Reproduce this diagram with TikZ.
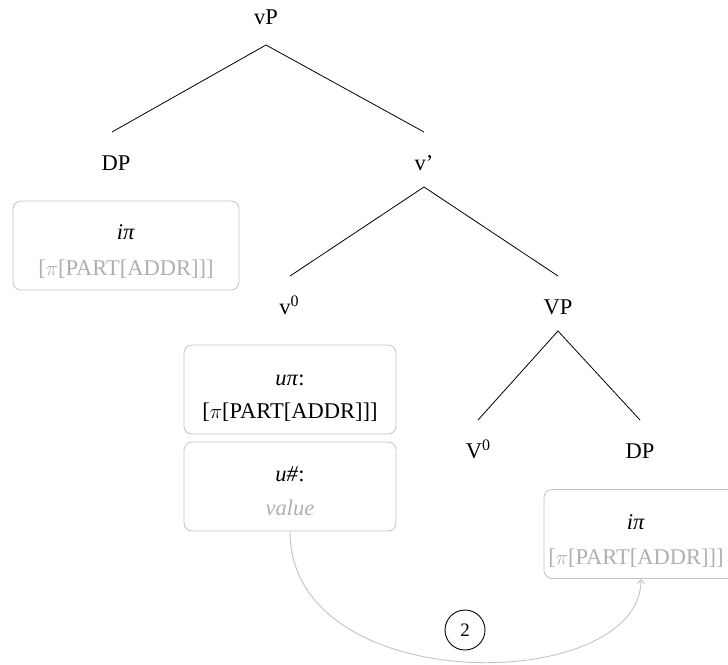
\documentclass[tikz,border=0pt]{standalone}
\usepackage{fontspec}
\setmainfont{Liberation Serif}
\usetikzlibrary{arrows.meta}
\definecolor{boxgray}{RGB}{195,195,195}
\definecolor{txtgray}{RGB}{175,175,175}
\newcommand{\supzero}{\raisebox{8pt}{\fontsize{16}{16}\selectfont 0}}
\begin{document}
\begin{tikzpicture}[x=1pt,y=-1pt,
  lab/.style={font=\fontsize{22.5}{26}\selectfont, inner sep=0pt, anchor=base},
  featbox/.style={draw=boxgray, line width=0.8pt, rounded corners=8pt, minimum width=#1, minimum height=89pt, inner sep=0pt},
  branch/.style={line width=0.8pt},
  ]
\useasboundingbox (0,0) rectangle (728,664);
% tree labels
\node[lab] (vP) at (266,24) {vP};
\node[lab] (DP1) at (116,170) {DP};
\node[lab] (vbar) at (424,170) {v’};
\node[lab] (v0) at (289,314) {v\supzero};
\node[lab] (VP) at (558,314) {VP};
\node[lab] (V0) at (478,458) {V\supzero};
\node[lab] (DP2) at (640,458) {DP};
% branches
\coordinate (vPb) at (266,45);
\coordinate (DP1t) at (112,132);
\coordinate (vbart) at (424,132);
\coordinate (vbarb) at (424,187);
\coordinate (v0t) at (290,276);
\coordinate (VPt) at (558,276);
\coordinate (VPb) at (558,331);
\coordinate (V0t) at (478,420);
\coordinate (DP2t) at (640,420);
\draw[branch] (DP1t) -- (vPb) -- (vbart);
\draw[branch] (v0t) -- (vbarb) -- (VPt);
\draw[branch] (V0t) -- (VPb) -- (DP2t);
% feature boxes
\node[featbox=226pt] (b1) at (126,245.5) {};
\node[lab] (b1a) at (126,239) {\textit{iπ}};
\node[lab, text=txtgray] (b1b) at (126,275) {[$\pi$[PART[ADDR]]]};
\node[featbox=212pt] (b2) at (290,389.5) {};
\node[lab] (b2a) at (290,385) {\textit{uπ}:};
\node[lab] (b2b) at (290,418) {[$\pi$[PART[ADDR]]]};
\node[featbox=212pt] (b3) at (290,486.5) {};
\node[lab] (b3a) at (290,481) {\textit{u\#}:};
\node[lab, text=txtgray] (b3b) at (290,515) {\textit{value}};
\node[featbox=226pt] (b4) at (657,534) {};
\node[lab] (b4a) at (636,529) {\textit{iπ}};
\node[lab, text=txtgray] (b4b) at (636,564) {[$\pi$[PART[ADDR]]]};
% agreement arrow
\coordinate (arrEnd) at (641,579);
\draw[boxgray, line width=0.9pt, -{Straight Barb[length=4pt,width=7pt]}] (b3.south) .. controls (290,700) and (641,695) .. (arrEnd);
\node[draw, circle, line width=0.9pt, minimum size=40pt, inner sep=0pt, font=\fontsize{19}{21}\selectfont] (two) at (465,630) {2};
\end{tikzpicture}
\end{document}
